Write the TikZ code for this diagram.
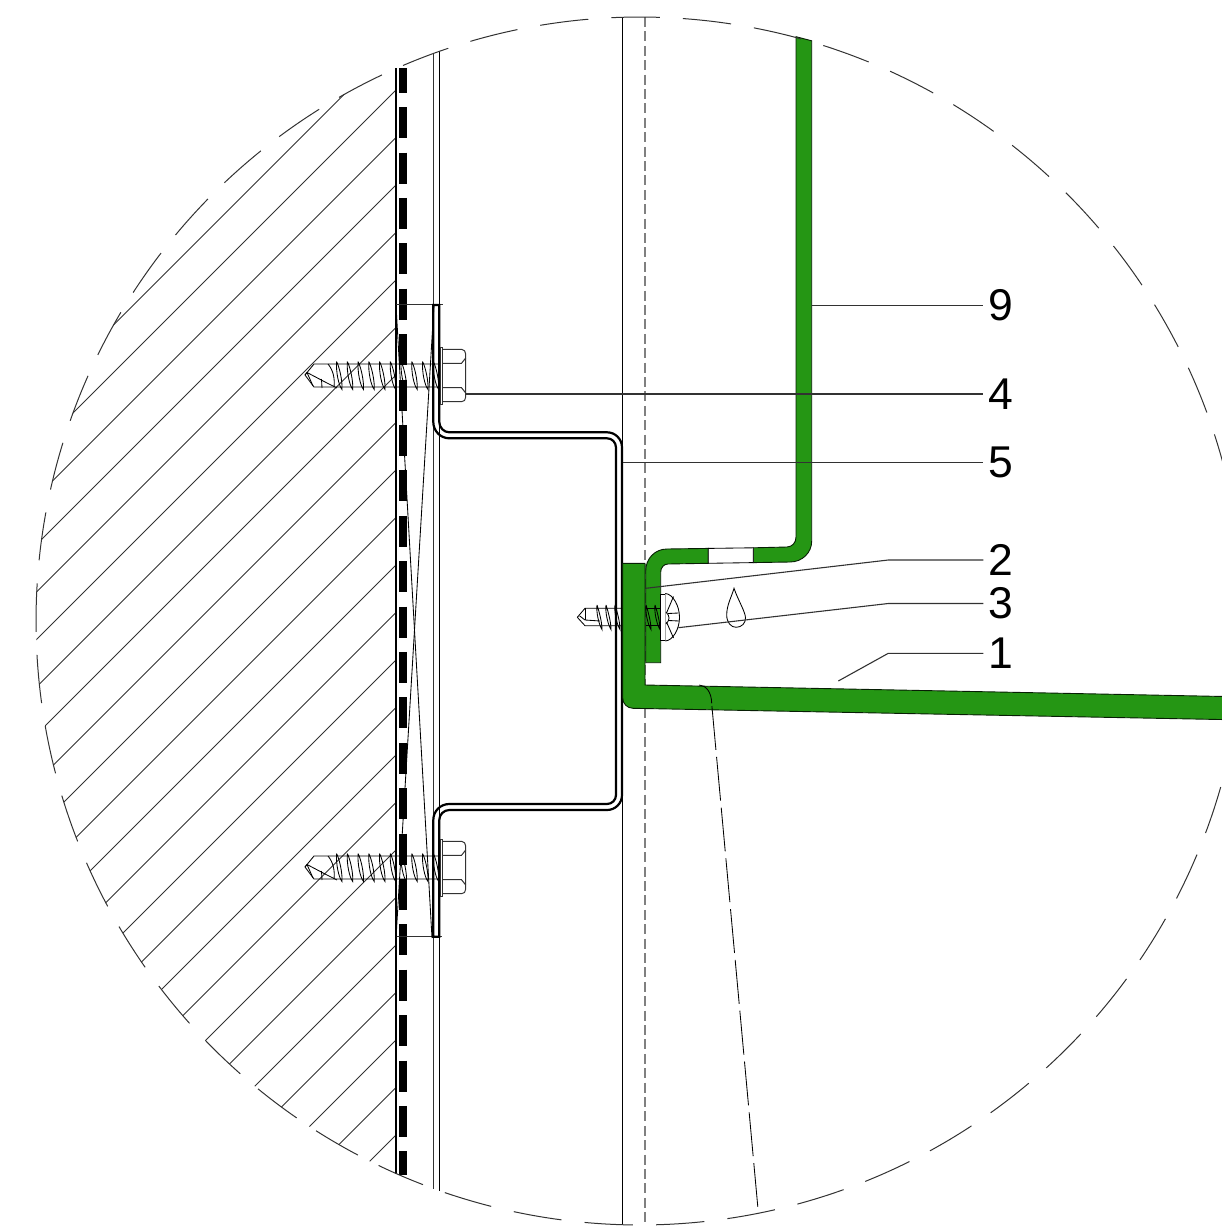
\documentclass[tikz,border=0pt]{standalone}
\usepackage{fontspec}
\setmainfont{Liberation Sans}
\definecolor{flash}{RGB}{37,150,20}
\definecolor{hair}{RGB}{50,50,50}
\tikzset{
  hatchline/.style={draw=hair,line width=0.9pt},
  hairline/.style={draw=black,line width=0.85pt},
  greyline/.style={draw=hair,line width=1pt},
  leader/.style={draw=hair,line width=1.1pt},
  greenpart/.style={fill=flash,draw=black!80!flash,line width=0.9pt},
  tag/.style={inner sep=0pt,outer sep=5.2pt,font=\fontsize{44.5}{44.5}\selectfont},
}
% bolt with hex head, drawn for the upper position
\newcommand{\hexbolt}{%
  \draw[hairline] (305,375) -- (314,364) -- (438,364);
  \draw[hairline] (305,375) -- (314,387) -- (438,387);
  \draw[hairline] (305,375) -- (307,372.5) -- (327,383) -- (337,388);
  \draw[hairline] (307,372.5) -- (313,386);
  \draw[hairline] (328,364) .. controls (333,370) and (335,378) .. (334,387);
  \draw[hairline] (321.5,379) -- (322,388);
  \foreach \i in {0,...,9}{
    \pgfmathsetmacro{\tx}{336.5+10.75*\i}
    \draw[hairline] (\tx,361.5) .. controls (\tx+3,367) and (\tx+6,381) .. (\tx+5.5,389.5)
       .. controls (\tx+2,385) and (\tx-0.5,372) .. (\tx,361.5);
  }
  \draw[greyline] (440,347.3) rectangle (442.7,404);
  \draw[greyline] (442.7,349.3) -- (461.5,349.3) .. controls (464,349.3) and (465.7,351.5) .. (465.7,354)
     -- (465.7,397) .. controls (465.7,400) and (464,401.7) .. (461.5,401.7) -- (442.7,401.7);
  \draw[greyline] (442.7,363.3) -- (461.5,363.3) -- (465.7,358);
  \draw[greyline] (442.7,387.7) -- (461.5,387.7) -- (465.7,393);
}
\begin{document}
\begin{tikzpicture}[x=1pt,y=-1pt]
\useasboundingbox (0,0) rectangle (1222,1231);
\clip (0,0) rectangle (1222,1231);
% masonry hatching
\begin{scope}
  \clip (0,0) rectangle (396,1231);
  \clip (640,621) circle[radius=604pt];
  \foreach \k in {-1,...,22}{
    \pgfmathsetmacro{\sm}{486+47.5*\k}
    \draw[hatchline] (0,\sm) -- (\sm,0);
  }
\end{scope}
% layers
\draw[hairline,line width=1.1pt] (396,68.5) -- (396,1173.5);
\draw[line width=7.5pt,dash pattern=on 31pt off 14.4pt,dash phase=6.8pt] (403,68.5) -- (403,1175);
\draw[greyline] (396,304.5) -- (443,304.5);
\draw[greyline] (396,936.7) -- (442,936.7);
\draw[hairline] (396,305) -- (432,938);
\draw[hairline] (434,305) -- (396,938);
\draw[greyline] (433.3,53.5) -- (433.3,1188.5);
\draw[hairline] (439.3,51.3) -- (439.3,1190.7);
\draw[hairline,line width=1.1pt] (622.7,17.3) -- (622.7,1224.8);
\draw[draw=black!50,line width=1.3pt,dash pattern=on 10pt off 4.4pt] (645,17) -- (645,1225);
% hat-profile bracket
\draw[black,line width=2.2pt,line join=miter]
  (433.3,305) -- (433.3,422) .. controls (433.3,431) and (440.5,438.3) .. (449.3,438.3)
  -- (607,438.3) .. controls (612,438.3) and (616,442.3) .. (616,447.5)
  -- (616,795) .. controls (616,800) and (612,804) .. (607,804)
  -- (449.3,804) .. controls (440.5,804) and (433.3,811) .. (433.3,820)
  -- (433.3,936.7) -- (439.3,936.7) -- (439.3,820)
  .. controls (439.3,814.5) and (443.8,810) .. (449.3,810)
  -- (607,810) .. controls (615.3,810) and (622,803.3) .. (622,795)
  -- (622,447.5) .. controls (622,439) and (615.3,432.3) .. (607,432.3)
  -- (449.3,432.3) .. controls (443.8,432.3) and (439.3,427.5) .. (439.3,422)
  -- (439.3,305) -- cycle;
% bolts
\hexbolt
\begin{scope}[shift={(0,492)}]
  \hexbolt
\end{scope}
% green flashing
\path[greenpart] (622.7,563.3) -- (645,563.3) -- (645,685) -- (1230,696.6) -- (1230,719.7)
  -- (633,708.3) .. controls (627,708.2) and (622.7,703.5) .. (622.7,698) -- cycle;
\path[greenpart] (645.7,662.7) -- (645.7,571) .. controls (645.7,558.5) and (655,549) .. (667,549)
  -- (708.3,548.4) -- (708.3,563.3) -- (668,564) .. controls (664,564) and (660.7,567.5) .. (660.7,572)
  -- (660.7,662.7) -- cycle;
\path[greenpart] (753.3,547.8) -- (787,547) .. controls (792,546.8) and (796,543) .. (796,537)
  -- (796,36.7) -- (811.7,40.8) -- (811.7,541) .. controls (811.7,553) and (802,562) .. (790,562)
  -- (753.3,562.6) -- cycle;
\draw[hairline,fill=white] (708.3,548.4) -- (753.3,547.8) -- (753.3,562.6) -- (708.3,563.3) -- cycle;
% curved break line and its dashed run
\draw[hairline] (699.3,685) .. controls (706,685.5) and (711.5,692) .. (711.7,703.3);
\draw[hairline,dash pattern=on 44pt off 7pt] (711.9,706) -- (758,1209);
% circle of detail
\draw[draw=hair,line width=1pt,dash pattern=on 48.4pt off 23.2pt]
  plot[domain=-106.3:253.7,samples=721] ({640+604*cos(\x)},{621+604*sin(\x)});
% self-drilling screw
\draw[hairline] (577.3,617.3) -- (585,608.3) -- (622,608.3);
\draw[hairline] (577.3,617.3) -- (585,625.7) -- (622,625.7);
\draw[hairline] (579.5,615.8) -- (585,620) -- (600,621);
\draw[hairline] (585,608.3) -- (585,620);
\foreach \tx in {597,606,615,646,655}{
  \draw[hairline] (\tx,605) .. controls (\tx+2,611) and (\tx+5,622) .. (\tx+5,629.5)
    .. controls (\tx+2,625) and (\tx-1,612) .. (\tx,605);
}
\draw[hairline] (645.7,608.3) -- (660.7,608.3);
\draw[hairline] (645.7,625.7) -- (660.7,625.7);
\draw[fill=white,hairline] (660.7,594) rectangle (665.3,640);
\draw[hairline,fill=white] (665.3,593.5) .. controls (673,594) and (679.5,606) .. (679.5,617.3)
  .. controls (679.5,629) and (673,640.5) .. (665.3,641);
\draw[hairline] (666,612) .. controls (668,614) and (669,616) .. (669,618)
  .. controls (669,620) and (668,622) .. (666,624);
\draw[hairline] (673.5,596.5) -- (666.5,613);
\draw[hairline] (678.5,613) -- (668,613.5);
\draw[hairline] (679,621) -- (668.5,620.5);
\draw[hairline] (673.5,638) -- (666.5,622);
% drop
\draw[hairline] (734,588.3) .. controls (731.5,597) and (726.7,605) .. (726.7,615)
  .. controls (726.7,622.5) and (731,627.3) .. (736,627.3)
  .. controls (742,627.3) and (745.5,623) .. (745.5,618)
  .. controls (745.5,612) and (738,600) .. (734,588.3) -- cycle;
% labels
\node[tag] (l9) at (1001,305.3) {9};
\node[tag] (l4) at (1001,394) {4};
\node[tag] (l5) at (1001,462.7) {5};
\node[tag] (l2) at (1001,560) {2};
\node[tag] (l3) at (1001,603.5) {3};
\node[tag] (l1) at (1001,653.3) {1};
\coordinate (c9) at (811.7,305.3);
\coordinate (c4) at (465.7,394);
\coordinate (c5) at (622.7,462.7);
\coordinate (c2) at (645.7,588.3);
\coordinate (b2) at (888.3,560);
\coordinate (c3) at (678.3,627.7);
\coordinate (b3) at (888.3,603.5);
\coordinate (c1) at (838.3,681);
\coordinate (b1) at (888.3,653.3);
\draw[leader] (c9) -- (l9.west);
\draw[leader] (c4) -- (l4.west);
\draw[leader] (c5) -- (l5.west);
\draw[leader] (c2) -- (b2) -- (l2.west);
\draw[leader] (c3) -- (b3) -- (l3.west);
\draw[leader] (c1) -- (b1) -- (l1.west);
\end{tikzpicture}
\end{document}
